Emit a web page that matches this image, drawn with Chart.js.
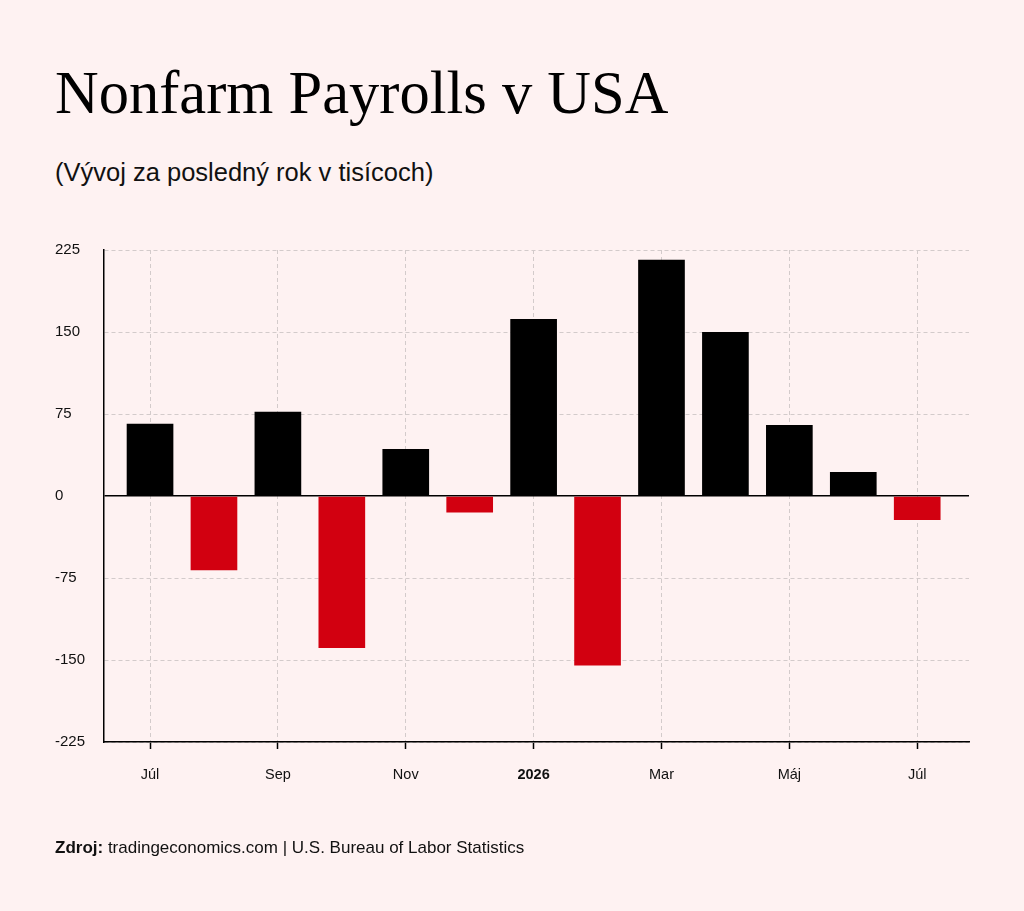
<!DOCTYPE html>
<html lang="sk">
<head>
    <meta charset="UTF-8">
    <title>Nonfarm Payrolls v USA</title>
    <script src="https://cdn.jsdelivr.net/npm/chart.js"></script>
    <style>
        html, body { margin: 0; padding: 0; background: #fef2f2; }
        #wrap { position: relative; width: 1024px; height: 911px; overflow: hidden; }
        #title { position: absolute; left: 55px; top: 58px; margin: 0; font: 400 60.5px "Liberation Serif", serif; color: #000; white-space: nowrap; }
        #subtitle { position: absolute; left: 55px; top: 158px; margin: 0; font: 400 25.5px "Liberation Sans", sans-serif; color: #111; white-space: nowrap; }
        #source { position: absolute; left: 55px; top: 838px; margin: 0; font: 400 17px "Liberation Sans", sans-serif; color: #111; white-space: nowrap; }
        canvas { position: absolute; left: 0; top: 0; }
    </style>
</head>
<body>
<div id="wrap">
    <h1 id="title">Nonfarm Payrolls v USA</h1>
    <p id="subtitle">(Vývoj za posledný rok v tisícoch)</p>
    <canvas id="payrolls" width="1024" height="911"></canvas>
    <p id="source"><b>Zdroj:</b> tradingeconomics.com | U.S. Bureau of Labor Statistics</p>
</div>

<script>
    // mesiace jul 2025 - jul 2026
    const months = ['Júl', 'Aug', 'Sep', 'Okt', 'Nov', 'Dec', '2026', 'Feb', 'Mar', 'Apr', 'Máj', 'Jún', 'Júl'];
    const payrolls = [66, -68, 77, -139, 43, -15, 162, -155, 216, 150, 65, 22, -22];
    const labelIdx = [0, 2, 4, 6, 8, 10, 12];   // ktore mesiace maju popis
    const yTicks = [-225, -150, -75, 0, 75, 150, 225];

    const RED = '#d20010';
    const GRID = '#d3cbcb';

    const isZero = c => c.tick && c.tick.value === 0;

    const ctx = document.getElementById('payrolls').getContext('2d');
    const chart = new Chart(ctx, {
        type: 'bar',
        data: {
            datasets: [{
                data: payrolls.map((v, i) => ({ x: i, y: v })),
                backgroundColor: payrolls.map(v => v < 0 ? RED : '#000'),
                borderWidth: 0,
                categoryPercentage: 1,
                barPercentage: 0.73
            }]
        },
        options: {
            responsive: false,
            animation: false,
            layout: { padding: { left: 55, right: 55, top: 250, bottom: 129 } },
            plugins: {
                legend: { display: false },
                tooltip: { enabled: false }
            },
            scales: {
                x: {
                    type: 'linear',
                    min: -0.72,
                    max: 12.81,
                    offset: false,
                    afterBuildTicks: s => { s.ticks = labelIdx.map(v => ({ value: v })); },
                    afterFit: s => { s.height = 40; },
                    grid: {
                        offset: false,
                        color: GRID,
                        lineWidth: 1,
                        tickColor: '#000',
                        tickLength: 7,
                        tickWidth: 1.5
                    },
                    border: { color: '#000', width: 1.5, dash: [4, 3] },
                    ticks: {
                        padding: 17,
                        maxRotation: 0,
                        color: '#111',
                        font: c => ({
                            family: 'Liberation Sans',
                            size: 14.5,
                            weight: c.tick && months[c.tick.value] === '2026' ? 'bold' : 'normal'
                        }),
                        callback: v => months[v]
                    }
                },
                y: {
                    min: -225,
                    max: 225,
                    afterBuildTicks: s => { s.ticks = yTicks.map(v => ({ value: v })); },
                    afterFit: s => { s.width = 49; },
                    grid: {
                        color: c => isZero(c) ? '#000' : GRID,
                        lineWidth: c => isZero(c) ? 1.5 : 1,
                        drawTicks: false
                    },
                    border: {
                        color: '#000',
                        width: 1.5,
                        dash: c => isZero(c) ? [] : [4, 3]
                    },
                    ticks: {
                        crossAlign: 'far',
                        color: '#111',
                        font: { family: 'Liberation Sans', size: 15 }
                    }
                }
            }
        }
    });
</script>
</body>
</html>
